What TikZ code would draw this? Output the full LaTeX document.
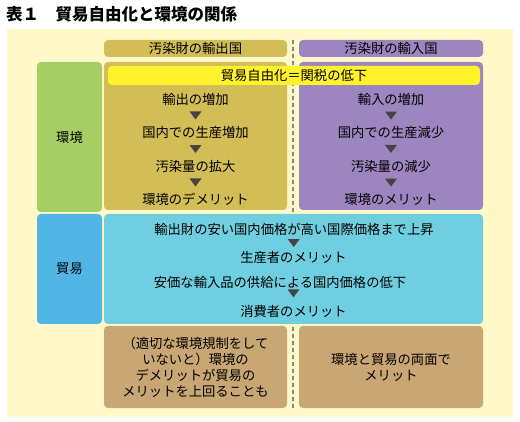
\documentclass[tikz,border=0pt]{standalone}
\usepackage{fontspec}
\setmainfont{Noto Sans CJK JP}
\usetikzlibrary{calc}

\definecolor{bgcream}{HTML}{FFF9C9}
\definecolor{exportcol}{HTML}{D2BD57}
\definecolor{importcol}{HTML}{9D86BF}
\definecolor{envcol}{HTML}{A7CE64}
\definecolor{tradelbl}{HTML}{51B5E5}
\definecolor{tradecol}{HTML}{70CEE1}
\definecolor{resultcol}{HTML}{C9A774}
\definecolor{bandcol}{HTML}{FFF22B}
\definecolor{sepgray}{HTML}{8A8A8A}
\definecolor{arrowgray}{HTML}{444444}

\tikzset{
  panel/.style={rounded corners=4pt, inner sep=0pt},
  txt/.style={font=\fontsize{13.3}{16}\selectfont, inner sep=0pt, align=center},
  tri/.pic={\fill[arrowgray] (-6,-4) -- (6,-4) -- (0,4) -- cycle;}
}

\begin{document}
\begin{tikzpicture}[x=1pt,y=-1pt]
  \useasboundingbox (0,0) rectangle (520,422);
  \fill[white] (0,0) rectangle (520,422);
  \fill[bgcream] (7,29) rectangle (513,417);
  \node[anchor=west,inner sep=0pt,font=\bfseries\fontsize{16.5}{18}\selectfont] (title) at (6,14) {表１　貿易自由化と環境の関係};

  % separator between the two countries
  \draw[sepgray,line width=2pt,dash pattern=on 4pt off 3pt] (293,40) -- (293,410);

  % column heads
  \node[panel,fill=exportcol,minimum width=183pt,minimum height=17pt] (exphead) at (195.5,48.5) {};
  \node[panel,fill=importcol,minimum width=184pt,minimum height=17pt] (imphead) at (391,48.5) {};
  \node[txt] (explbl) at (exphead) {汚染財の輸出国};
  \node[txt] (implbl) at (imphead) {汚染財の輸入国};

  % row heads
  \node[panel,fill=envcol,minimum width=65pt,minimum height=150pt] (envhead) at (69.5,137) {};
  \node[panel,fill=tradelbl,minimum width=65pt,minimum height=110pt] (tradehead) at (69.5,269) {};
  \node[txt] (envlbl) at (envhead) {環境};
  \node[txt] (tradelbl) at (tradehead) {貿易};

  % environment panels
  \node[panel,fill=exportcol,minimum width=183pt,minimum height=148pt] (expenv) at (195.5,136) {};
  \node[panel,fill=importcol,minimum width=184pt,minimum height=148pt] (impenv) at (391,136) {};
  \node[panel,fill=bandcol,minimum width=372pt,minimum height=19pt] (band) at (294,75.5) {};
  \node[txt] (bandlbl) at (band) {貿易自由化＝関税の低下};

  \node[txt] (e1) at (195.5,99) {輸出の増加};
  \node[txt] (e2) at (195.5,132) {国内での生産増加};
  \node[txt] (e3) at (195.5,166) {汚染量の拡大};
  \node[txt] (e4) at (195.5,199) {環境のデメリット};
  \node[txt] (i1) at (391,99) {輸入の増加};
  \node[txt] (i2) at (391,132) {国内での生産減少};
  \node[txt] (i3) at (391,166) {汚染量の減少};
  \node[txt] (i4) at (391,199) {環境のメリット};
  \foreach \a/\b in {e1/e2,e2/e3,e3/e4,i1/i2,i2/i3,i3/i4}{
    \path (\a) -- (\b) pic[midway] {tri};
  }

  % trade panel
  \node[panel,fill=tradecol,minimum width=379pt,minimum height=110pt] (trade) at (293.5,269) {};
  \node[txt] (t1) at (294,229) {輸出財の安い国内価格が高い国際価格まで上昇};
  \node[txt] (t2) at (293.5,257) {生産者のメリット};
  \node[txt] (t3) at (280,282) {安価な輸入品の供給による国内価格の低下};
  \node[txt] (t4) at (293.5,311) {消費者のメリット};
  \path (t1) -- (t2) pic[midway] {tri};
  \path (t3 -| t4) -- (t4) pic[midway] {tri};

  % outcome panels
  \node[panel,fill=resultcol,minimum width=183pt,minimum height=82pt] (expres) at (195.5,367) {};
  \node[panel,fill=resultcol,minimum width=184pt,minimum height=82pt] (impres) at (391,367) {};
  \node[txt] (expreslbl) at (expres) {（適切な環境規制をして\\いないと）環境の\\デメリットが貿易の\\メリットを上回ることも};
  \node[txt] (impreslbl) at (impres) {環境と貿易の両面で\\メリット};
\end{tikzpicture}
\end{document}
